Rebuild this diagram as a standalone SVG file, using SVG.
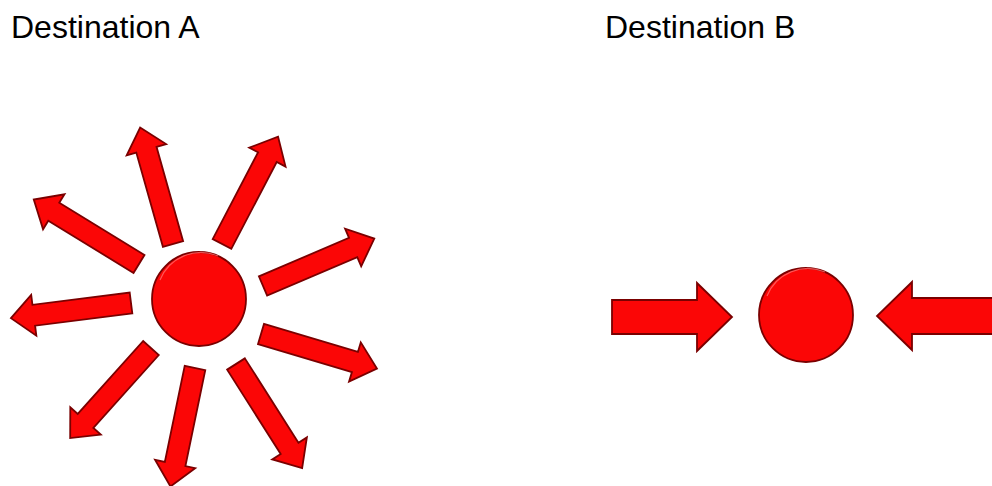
<svg xmlns="http://www.w3.org/2000/svg" xmlns:xlink="http://www.w3.org/1999/xlink" width="992" height="486" viewBox="0 0 992 486">
  <style>
    .label { font-family: "Liberation Sans", Arial, sans-serif; font-size: 32px; fill: #000; }
    .red { fill: #fb0606; stroke: #7a0000; stroke-width: 1.8; stroke-linejoin: miter; }
    .hl { fill: none; stroke: #ff6a6a; stroke-width: 1.2; opacity: 0.8; }
  </style>
  <defs>
    <path id="ray" d="M0,-10.5 H98 V-20.5 L121,0 L98,20.5 V10.5 H0 Z"/>
  </defs>
  <rect width="992" height="486" fill="#fff"/>

  <g id="label-a"><text class="label" x="11" y="38">Destination A</text></g>
  <g id="label-b"><text class="label" x="605" y="38">Destination B</text></g>

  <g id="hub-a">
    <circle class="red" cx="199" cy="299" r="47"/>
    <path class="hl" d="M160,280 A44,44 0 0 1 218,256"/>
  </g>
  <g id="hub-b">
    <circle class="red" cx="806" cy="315" r="47"/>
    <path class="hl" d="M767,296 A44,44 0 0 1 825,272"/>
  </g>

  <g id="connectors">
    <g id="rays-a" class="red">
      <use xlink:href="#ray" href="#ray" transform="translate(173,244) rotate(-105.75)"/>
      <use xlink:href="#ray" href="#ray" transform="translate(222,244) rotate(-62.4)"/>
      <use xlink:href="#ray" href="#ray" transform="translate(139,264) rotate(-148.5) scale(1.02,1)"/>
      <use xlink:href="#ray" href="#ray" transform="translate(131,303) rotate(172.8)"/>
      <use xlink:href="#ray" href="#ray" transform="translate(263,286) rotate(-23.1)"/>
      <use xlink:href="#ray" href="#ray" transform="translate(261,334) rotate(16.6)"/>
      <use xlink:href="#ray" href="#ray" transform="translate(151,348) rotate(131.9)"/>
      <use xlink:href="#ray" href="#ray" transform="translate(195,368) rotate(101.7)"/>
      <use xlink:href="#ray" href="#ray" transform="translate(236,364) rotate(57.6) scale(1.02,1)"/>
    </g>
    <g id="arrows-b">
      <path class="red" d="M612,300 H697 V283 L732,317 L697,351 V334 H612 Z"/>
      <path class="red" d="M1000,298 H912 V282 L877,316 L912,350 V334 H1000 Z"/>
    </g>
  </g>
</svg>
